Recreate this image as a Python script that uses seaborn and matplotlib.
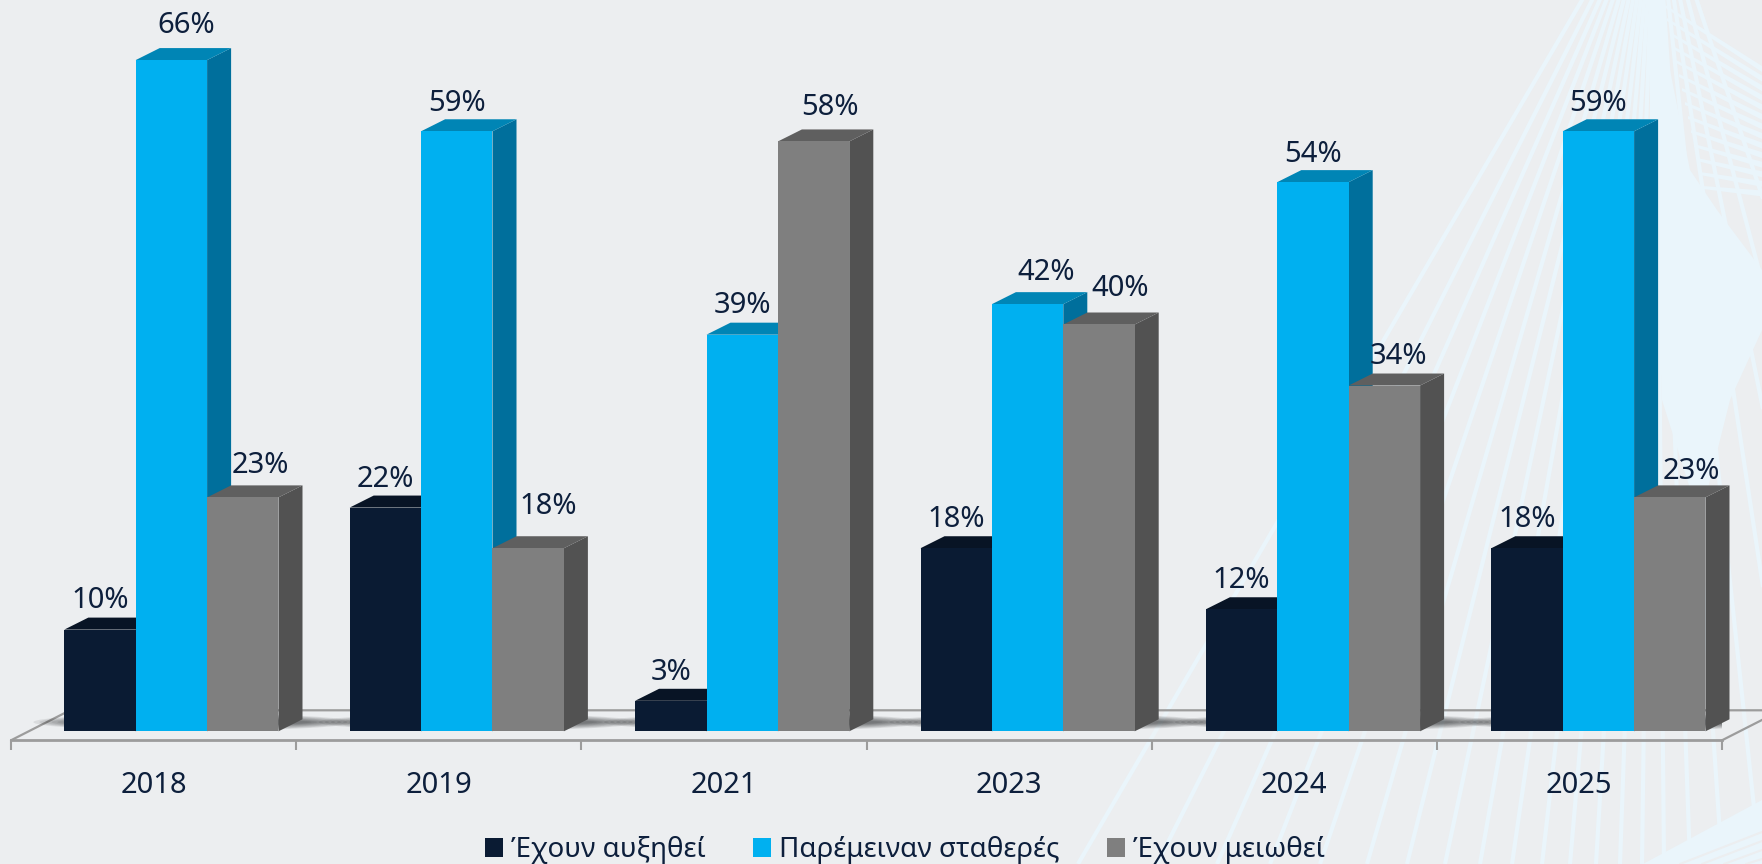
import numpy as np
import pandas as pd
import matplotlib
matplotlib.use('Agg')
import matplotlib.pyplot as plt
import seaborn as sns
from matplotlib.patches import Polygon, Ellipse

# values
years = ['2018', '2019', '2021', '2023', '2024', '2025']
series_names = ['Έχουν αυξηθεί', 'Παρέμειναν σταθερές', 'Έχουν μειωθεί']
increased = [10, 22, 3, 18, 12, 18]
stable = [66, 59, 39, 42, 54, 59]
decreased = [23, 18, 58, 40, 34, 23]

# label placement in pixels, hand placed in the original
label_dx = [[0, 0, 0, 0, 0, 0],
            [15, 0, 0, 19, 0, 0],
            [18, 20, 16, 21, 14, 22]]
label_dy = [[29, 28, 28, 29, 29, 29],
            [35, 28, 29, 32, 28, 28],
            [32, 42, 34, 36, 29, 26]]

front_cols = ['#0A1B33', '#00B0F0', '#7F7F7F']
top_cols = ['#081425', '#0085B5', '#5F5F5F']
side_cols = ['#081425', '#006F9C', '#525252']
BG = '#ECEEF0'
LIGHT = '#EAF5FB'
TXT = '#0D1F3C'
LINE = '#9C9C9C'

W, H = 1762, 864
PX_X = 285.4   # pixels per category
PX_Y = 10.17   # pixels per percent
BASE = 731.3   # pixel row of value 0
FLOOR = 740.3  # pixel row of the front floor line
LEFT, RIGHT = 11, 1722
FIRST = 171.4  # pixel column of first group centre

sns.set_theme(style='white')
plt.rcParams['font.family'] = ['Noto Sans', 'DejaVu Sans']

fig = plt.figure(figsize=(W / 100, H / 100), dpi=100, facecolor=BG)

# background decoration, in pixel coordinates
bg = fig.add_axes([0, 0, 1, 1])
bg.set_xlim(0, W)
bg.set_ylim(H, 0)
bg.axis('off')
apex = (1655, -125)
ray_ends = [1078, 1157, 1217, 1270, 1320, 1367, 1407, 1445, 1480, 1512, 1542, 1570,
            1596, 1620, 1642, 1664, 1690, 1722, 1760, 1805, 1855, 1915, 1985]
for xe in ray_ends:
    bg.plot([apex[0], xe], [apex[1], H], color=LIGHT, lw=3, solid_capstyle='butt')
bg.add_patch(Polygon([(1648, 0), (1664, 0), (1668, 60), (1690, 170), (1717, 210), (1762, 270),
                      (1762, 330), (1730, 400), (1700, 520), (1662, 400), (1650, 100)],
                     color=LIGHT, lw=0))
for k in range(14):
    yl = 4 + k * 14
    yr = yl + 62 * (1 - k / 14)
    xl = 1664 + k * 3
    bg.add_patch(Polygon([(xl, yl), (W, yr), (W, yr + 6), (xl, yl + 3)], color=LIGHT, lw=0))
bg.add_patch(Polygon([(1643, H), (W, 800), (W, H)], color=LIGHT, lw=0))
for k in range(4):
    bg.plot([1680 + k * 22, W], [H, 832 + k * 9], color=BG, lw=1.5)

# main chart, bottom spine is the front edge of the floor
ax = fig.add_axes([LEFT / W, 1 - FLOOR / H, (RIGHT - LEFT) / W, FLOOR / H])
ax.patch.set_alpha(0)

df = pd.DataFrame({'year': years, series_names[0]: increased,
                   series_names[1]: stable, series_names[2]: decreased})
df = df.melt(id_vars='year', var_name='series', value_name='value')
sns.barplot(data=df, x='year', y='value', hue='series', hue_order=series_names,
            palette=front_cols, saturation=1, width=0.7505, gap=0, linewidth=0, ax=ax)

x0 = (LEFT - FIRST) / PX_X
x1 = (RIGHT - FIRST) / PX_X
ax.set_xlim(x0, x1)
ax.set_ylim((BASE - FLOOR) / PX_Y, BASE / PX_Y)
ax.set_xlabel('')
ax.set_ylabel('')
ax.set_yticks([])

edges = np.linspace(x0, x1, len(years) + 1)
ax.set_xticks((edges[:-1] + edges[1:]) / 2, labels=years)
ax.set_xticks(edges, minor=True)
ax.tick_params(axis='x', which='major', length=0, pad=22, labelsize=21, labelcolor=TXT)
ax.tick_params(axis='x', which='minor', length=7.4, width=1.5, color=LINE, bottom=True)
for s in ['top', 'left', 'right']:
    ax.spines[s].set_visible(False)
ax.spines['bottom'].set_color(LINE)
ax.spines['bottom'].set_linewidth(2)

# floor
ddx, ddy = 59 / PX_X, 30 / PX_Y
y0 = ax.get_ylim()[0]
ax.add_patch(Polygon([(x0, y0), (x0 + ddx, y0 + ddy), (x1 + ddx, y0 + ddy), (x1, y0)],
                     color='#EEF0F2', alpha=0.4, lw=0, zorder=0, clip_on=False))
ax.plot([x0, x0 + ddx, x1 + ddx, x1], [y0, y0 + ddy, y0 + ddy, y0], color=LINE, lw=1.6,
        zorder=1, clip_on=False)

# soft shadows on the floor under each group
for c in ax.containers[1]:
    cx = c.get_x() + c.get_width() / 2 + 22 / PX_X
    for k in range(8):
        ax.add_patch(Ellipse((cx, 0.9), (320 - k * 12) / PX_X, (17 - k * 1.5) / PX_Y,
                             color='black', alpha=0.08, lw=0, zorder=1.5))

# 3d faces and value labels, taken from the bars seaborn drew
dx, dy = 24 / PX_X, 12 / PX_Y
for s, cont in enumerate(ax.containers):
    for i, bar in enumerate(cont):
        bar.set_zorder(5)
        xa, xb = bar.get_x(), bar.get_x() + bar.get_width()
        h = bar.get_height()
        z = 2 + s * 0.5
        ax.add_patch(Polygon([(xb, 0), (xb + dx, dy), (xb + dx, h + dy), (xb, h)],
                             color=side_cols[s], lw=0, zorder=z, clip_on=False))
        ax.add_patch(Polygon([(xa, h), (xa + dx, h + dy), (xb + dx, h + dy), (xb, h)],
                             color=top_cols[s], lw=0, zorder=z, clip_on=False))
        ax.annotate(f'{h:.0f}%', ((xa + xb) / 2, h),
                    xytext=(label_dx[s][i] * 0.72, label_dy[s][i] * 0.72),
                    textcoords='offset points', ha='center', va='center',
                    fontsize=21, color=TXT, zorder=6, annotation_clip=False)

handles, labels = ax.get_legend_handles_labels()
ax.legend(handles, labels, ncol=3, frameon=False, fontsize=20, labelcolor=TXT,
          handlelength=0.65, handleheight=0.65, handletextpad=0.3, columnspacing=1.7,
          loc='center', bbox_to_anchor=(905 / W, 1 - 850.5 / H), bbox_transform=fig.transFigure,
          borderpad=0, borderaxespad=0)

fig.savefig('out.png', dpi=100, facecolor=BG)
